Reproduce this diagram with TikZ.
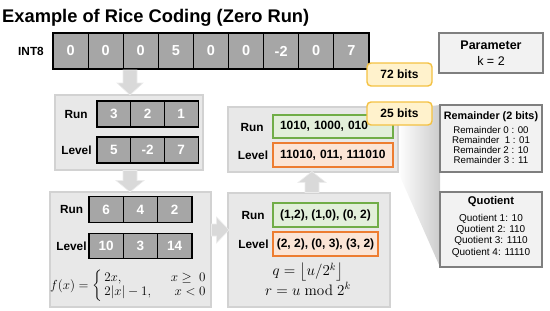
\documentclass[tikz,border=0pt]{standalone}
\usepackage{amsmath}
\usepackage[no-math]{fontspec}
\setmainfont{Liberation Sans}
\usetikzlibrary{calc}
\definecolor{panelfill}{HTML}{E8E8E8}
\definecolor{panelline}{HTML}{D2D2D2}
\definecolor{cellfill}{HTML}{A6A6A6}
\definecolor{infofill}{HTML}{F2F2F2}
\definecolor{infoline}{HTML}{7F7F7F}
\definecolor{callfill}{HTML}{FFF2CC}
\definecolor{callline}{HTML}{F4C142}
\definecolor{gfill}{HTML}{E2EFDA}
\definecolor{gline}{HTML}{70AD47}
\definecolor{ofill}{HTML}{FBE5D6}
\definecolor{oline}{HTML}{ED7D31}
\definecolor{arrowfill}{HTML}{D9D9D9}
\definecolor{arrowline}{HTML}{ECECEC}
\newcommand\fsz[1]{\fontsize{#1}{#1}\selectfont}
\tikzset{
 panel/.style={fill=panelfill, draw=panelline, line width=1.2pt, inner sep=0pt},
 cellbox/.style={fill=cellfill, draw=black, line width=1.2pt, text=white, font=\bfseries\fsz{13.5}, inner sep=0pt},
 lbl/.style={font=\bfseries\fsz{11.8}, inner sep=0pt},
 infobox/.style={fill=infofill, draw=infoline, line width=1.6pt, inner sep=0pt},
 callout/.style={fill=callfill, draw=callline, line width=1.4pt, rounded corners=4pt, font=\bfseries\fsz{12}, inner sep=0pt, minimum width=65pt, minimum height=23pt},
 gbox/.style={fill=gfill, draw=gline, line width=1.4pt, font=\bfseries\fsz{12}, inner sep=0pt},
 obox/.style={fill=ofill, draw=oline, line width=1.4pt, font=\bfseries\fsz{12}, inner sep=0pt},
 blockarrow/.style={fill=arrowfill, draw=arrowline, line width=0.6pt},
}
\begin{document}
\begin{tikzpicture}[x=1pt,y=-1pt]
\useasboundingbox (0,0) rectangle (550,311);
% title
\node[anchor=base west, inner sep=0pt, font=\bfseries\fsz{18.3}] (title) at (2,22) {Example of Rice Coding (Zero Run)};
% wedge
\shade[left color=white, right color=gray!40] (398,172) -- (398,110) -- (440,105) -- (440,267) -- cycle;
% input array
\node[lbl] (int8) at (31,51) {INT8};
\foreach \v [count=\i] in {0,0,0,5,0,0,-2,0,7}
  \node[cellbox, font=\bfseries\fsz{14.5}, minimum width=35.1pt, minimum height=36pt] (c\i) at ({53+35.1*(\i-0.5)},51) {\v};
% panels
\node[panel, minimum width=148pt, minimum height=75pt] (p1) at (129,132.5) {};
\node[panel, minimum width=161pt, minimum height=115pt] (p2) at (130.5,249.5) {};
\node[panel, minimum width=162pt, minimum height=114pt] (p3) at (309,250) {};
\node[panel, minimum width=170pt, minimum height=65pt] (p4) at (313,139.5) {};
% panel 1
\node[lbl] (p1run) at (76,114) {Run};
\node[lbl] (p1lev) at (76.5,150) {Level};
\foreach \v [count=\i] in {3,2,1}
  \node[cellbox, minimum width=33.7pt, minimum height=26pt] (a\i) at ({97+33.7*(\i-0.5)},114) {\v};
\foreach \v [count=\i] in {5,-2,7}
  \node[cellbox, minimum width=33.7pt, minimum height=26pt] (b\i) at ({97+33.7*(\i-0.5)},150) {\v};
% panel 2
\node[lbl] (p2run) at (71.5,209.5) {Run};
\node[lbl] (p2lev) at (71.5,246) {Level};
\foreach \v [count=\i] in {6,4,2}
  \node[cellbox, minimum width=34.3pt, minimum height=25.5pt] (d\i) at ({89+34.3*(\i-0.5)},209.5) {\v};
\foreach \v [count=\i] in {10,3,14}
  \node[cellbox, minimum width=34.3pt, minimum height=25.5pt] (e\i) at ({89+34.3*(\i-0.5)},246) {\v};
\node[inner sep=0pt, font=\fsz{12}] (fx) at (128.5,286)
  {\scalebox{1.09}{$f(x)=\left\{\begin{array}{@{\,}l@{\hspace{18pt}}r@{}}2x, & x\geq\ 0\\ 2|x|-1, & x<0\end{array}\right.$}};
% panel 3
\node[lbl] (p3run) at (253,215) {Run};
\node[lbl] (p3lev) at (253.5,244) {Level};
\node[gbox, minimum width=105pt, minimum height=24pt] (g3) at (325.5,215) {(1,2), (1,0), (0, 2)};
\node[obox, minimum width=105pt, minimum height=24pt] (o3) at (325.5,244) {(2, 2), (0, 3), (3, 2)};
\node[inner sep=0pt, font=\fsz{14.4}] (qf) at (308,272) {\scalebox{1.05}{$q=\left\lfloor u/2^k\right\rfloor$}};
\node[inner sep=0pt, font=\fsz{14.4}] (rf) at (308,289) {\scalebox{1.05}{$r=u\bmod 2^k$}};
% panel 4
\node[lbl] (p4run) at (252,127) {Run};
\node[lbl] (p4lev) at (253,155) {Level};
\node[gbox, text width=106pt, inner xsep=7pt, align=left, minimum height=23pt] (g4) at (333,126.5) {1010, 1000, 010};
\node[obox, text width=106pt, inner xsep=7pt, align=left, minimum height=24pt] (o4) at (333,155) {11010, 011, 111010};
% right info boxes
\node[infobox, minimum width=104pt, minimum height=40pt, align=center, font=\fsz{12.5}] (param) at (491,53)
  {\bfseries Parameter\\[3pt]k = 2};
\node[infobox, minimum width=102pt, minimum height=67pt] (rem) at (491,138.5) {};
\node[font=\bfseries\fsz{10.8}, inner sep=0pt] (remt) at (491,117) {Remainder (2 bits)};
\node[font=\fontsize{9.7}{10}\selectfont, inner sep=0pt, align=center] (reml) at (491,145.3)
  {Remainder 0 : 00\\Remainder~ 1 : 01\\Remainder 2 : 10\\Remainder 3 : 11};
\node[infobox, minimum width=102pt, minimum height=75pt] (quo) at (491,229.5) {};
\node[font=\bfseries\fsz{11.2}, inner sep=0pt] (quot) at (491,202) {Quotient};
\node[font=\fontsize{10}{11.3}\selectfont, inner sep=0pt, align=center] (quol) at (491,235.5)
  {Quotient 1: 10\\Quotient 2: 110\\Quotient 3: 1110\\Quotient 4: 11110};
% block arrows
\coordinate (s1) at (130,70);
\coordinate (s2) at (130,170.5);
\coordinate (s3) at (211.5,230);
\coordinate (s4) at (312,192.5);
\filldraw[blockarrow] (s1) ++(-7,0) -- ++(14,0) -- ++(0,13) -- ++(6,0) -- ++(-13,12) -- ++(-13,-12) -- ++(6,0) -- cycle;
\filldraw[blockarrow] (s2) ++(-7,0) -- ++(14,0) -- ++(0,10) -- ++(7,0) -- ++(-14,11.5) -- ++(-14,-11.5) -- ++(7,0) -- cycle;
\filldraw[blockarrow] (s3) ++(0,-6) -- ++(5,0) -- ++(0,-7) -- ++(12.5,13) -- ++(-12.5,13) -- ++(0,-7) -- ++(-5,0) -- cycle;
\filldraw[blockarrow] (s4) ++(-7,0) -- ++(0,-10) -- ++(-7,0) -- ++(14,-11) -- ++(14,11) -- ++(-7,0) -- ++(0,10) -- cycle;
% callouts
\node[callout] (b72) at (399.5,74.5) {72 bits};
\node[callout] (b25) at (399.5,113.5) {25 bits};
\end{tikzpicture}
\end{document}
